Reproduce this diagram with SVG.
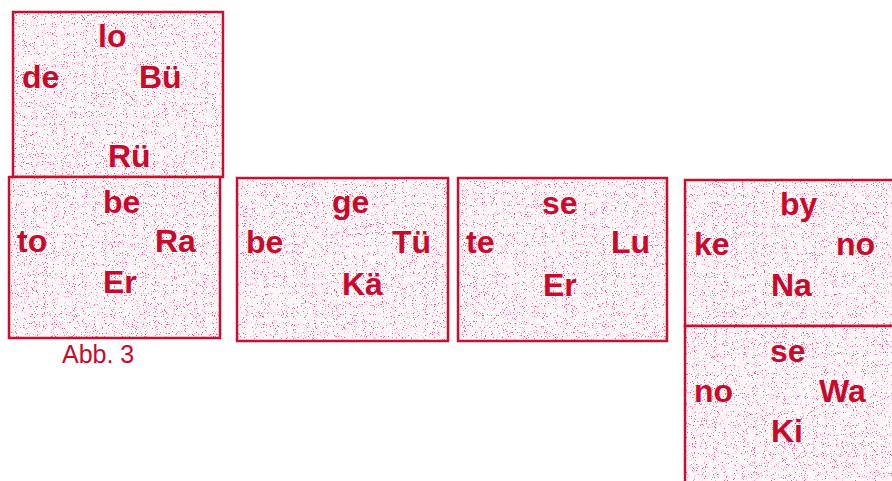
<svg xmlns="http://www.w3.org/2000/svg" width="892" height="481" viewBox="0 0 892 481">
<style>
.bg{fill:#fef6f8}
.sp{fill:#fff;filter:url(#speckle)}
.bx{fill:none;stroke:#c8102e;stroke-width:2.5}
.t{font-family:"Liberation Sans",Arial,sans-serif;font-weight:bold;font-size:32px;fill:#c70a2c}
.cap{font-family:"Liberation Sans",Arial,sans-serif;font-size:25px;fill:#c70a2c}
</style>
<defs>
<filter id="speckle" x="0" y="0" width="100%" height="100%" filterUnits="objectBoundingBox">
<feTurbulence type="fractalNoise" baseFrequency="0.9" numOctaves="2" seed="7" result="n"/>
<feColorMatrix in="n" type="matrix" values="0 0 0 0 0.82  0 0 0 0 0.1  0 0 0 0 0.25  9 0 0 0 -5.6" result="s"/>
<feComposite in="s" in2="SourceAlpha" operator="in"/>
</filter>
</defs>
<rect width="892" height="481" fill="#fff"/>
<g id="box1">
<rect class="bg" x="13" y="12" width="210" height="165"/>
<rect class="sp" x="13" y="12" width="210" height="165"/>
<rect class="bx" x="13" y="12" width="210" height="165"/>
<text class="t" x="98" y="47">lo</text>
<text class="t" x="22" y="88">de</text>
<text class="t" x="139" y="88">Bü</text>
<text class="t" x="108" y="167">Rü</text>
</g>
<g id="box2">
<rect class="bg" x="9" y="177" width="211" height="161"/>
<rect class="sp" x="9" y="177" width="211" height="161"/>
<rect class="bx" x="9" y="177" width="211" height="161"/>
<text class="t" x="103" y="213">be</text>
<text class="t" x="17" y="252">to</text>
<text class="t" x="155" y="252">Ra</text>
<text class="t" x="103" y="293">Er</text>
</g>
<text id="caption" class="cap" x="62" y="363">Abb. 3</text>
<g id="box3">
<rect class="bg" x="237" y="178" width="211" height="163"/>
<rect class="sp" x="237" y="178" width="211" height="163"/>
<rect class="bx" x="237" y="178" width="211" height="163"/>
<text class="t" x="332" y="213">ge</text>
<text class="t" x="246" y="253">be</text>
<text class="t" x="392" y="253">Tü</text>
<text class="t" x="342" y="295">Kä</text>
</g>
<g id="box4">
<rect class="bg" x="458" y="178" width="209" height="163"/>
<rect class="sp" x="458" y="178" width="209" height="163"/>
<rect class="bx" x="458" y="178" width="209" height="163"/>
<text class="t" x="542" y="214">se</text>
<text class="t" x="466" y="253">te</text>
<text class="t" x="611" y="253">Lu</text>
<text class="t" x="543" y="296">Er</text>
</g>
<g id="box5">
<rect class="bg" x="685" y="180" width="220" height="146"/>
<rect class="sp" x="685" y="180" width="220" height="146"/>
<rect class="bx" x="685" y="180" width="220" height="146"/>
<text class="t" x="780" y="215">by</text>
<text class="t" x="694" y="255">ke</text>
<text class="t" x="836" y="255">no</text>
<text class="t" x="771" y="296">Na</text>
</g>
<g id="box6">
<rect class="bg" x="685" y="326" width="220" height="170"/>
<rect class="sp" x="685" y="326" width="220" height="170"/>
<rect class="bx" x="685" y="326" width="220" height="170"/>
<text class="t" x="770" y="362">se</text>
<text class="t" x="694" y="402">no</text>
<text class="t" x="819" y="402">Wa</text>
<text class="t" x="771" y="442">Ki</text>
</g>
</svg>
